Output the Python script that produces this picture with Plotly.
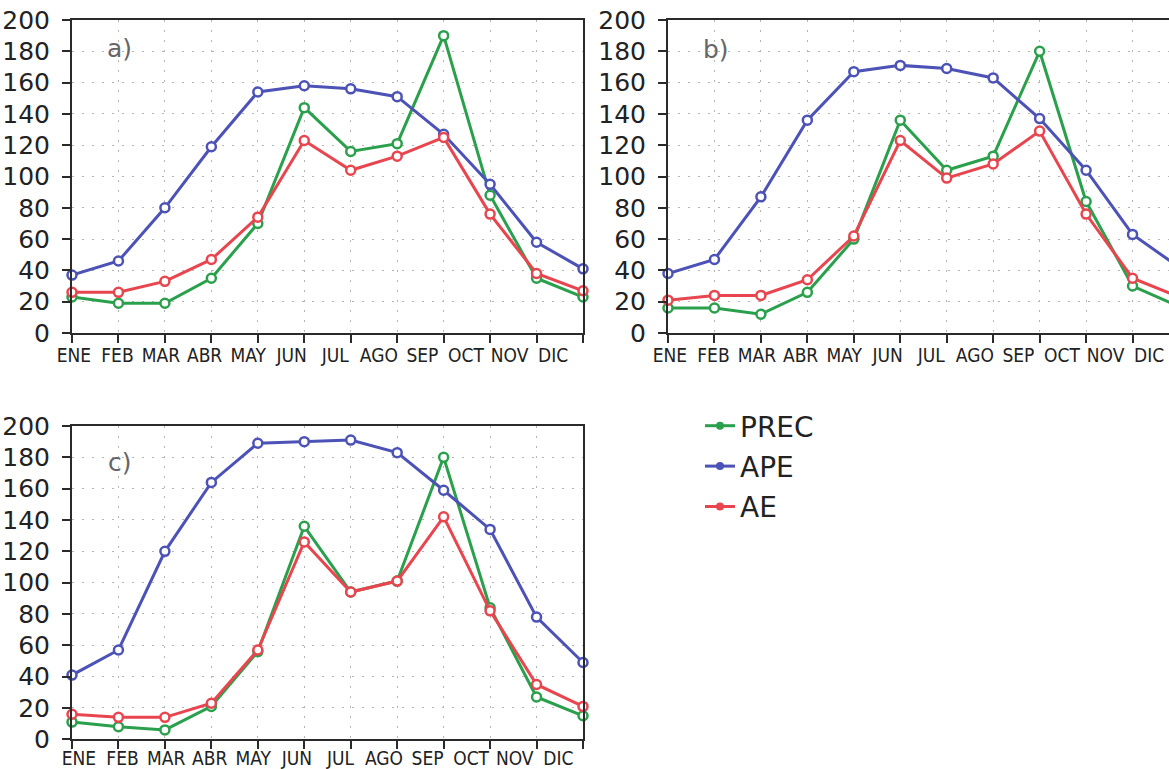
import plotly.graph_objects as go

months = ["ENE", "FEB", "MAR", "ABR", "MAY", "JUN", "JUL", "AGO", "SEP", "OCT", "NOV", "DIC"]
y_ticks = list(range(0, 201, 20))

# Panel a)
prec_a = [23, 19, 19, 35, 70, 144, 116, 121, 190, 88, 35, 23]
ape_a = [37, 46, 80, 119, 154, 158, 156, 151, 127, 95, 58, 41]
ae_a = [26, 26, 33, 47, 74, 123, 104, 113, 125, 76, 38, 27]

# Panel b)
prec_b = [16, 16, 12, 26, 60, 136, 104, 113, 180, 84, 30, 17]
ape_b = [38, 47, 87, 136, 167, 171, 169, 163, 137, 104, 63, 42]
ae_b = [21, 24, 24, 34, 62, 123, 99, 108, 129, 76, 35, 23]

# Panel c)
prec_c = [11, 8, 6, 21, 56, 136, 94, 101, 180, 84, 27, 15]
ape_c = [41, 57, 120, 164, 189, 190, 191, 183, 159, 134, 78, 49]
ae_c = [16, 14, 14, 23, 57, 126, 94, 101, 142, 82, 35, 21]

series_names = ["PREC", "APE", "AE"]
colors = {"PREC": "#2BA04C", "APE": "#4C52B6", "AE": "#E8454F"}
panel_labels = ["a)", "b)", "c)"]

W, H = 1169, 769
fig = go.Figure()

panels = [
    ({"PREC": prec_a, "APE": ape_a, "AE": ae_a}, "x", "y"),
    ({"PREC": prec_b, "APE": ape_b, "AE": ae_b}, "x2", "y2"),
    ({"PREC": prec_c, "APE": ape_c, "AE": ae_c}, "x3", "y3"),
]
xs = list(range(len(months)))

for data, xa, ya in panels:
    for name in series_names:
        fig.add_trace(go.Scatter(
            x=xs, y=data[name], xaxis=xa, yaxis=ya, mode="lines+markers",
            name=name, showlegend=False, cliponaxis=False,
            line=dict(color=colors[name], width=3),
            marker=dict(symbol="circle", size=9, color="white",
                        line=dict(color=colors[name], width=2.5)),
        ))

# legend entries
for name in series_names:
    fig.add_trace(go.Scatter(
        x=[None], y=[None], mode="lines+markers", name=name, showlegend=True,
        legendgroup=name, xaxis="x", yaxis="y",
        line=dict(color=colors[name], width=3),
        marker=dict(symbol="circle", size=8, color=colors[name]),
    ))

axis_col = "#2a2a2a"
grid = dict(gridcolor="#b5b5b5", gridwidth=1, griddash="2px,8px")
px_per_month = (583 - 72) / 11.0


def xaxis_cfg(domain, rng, offset, standoff):
    label_pos = [offset + i * 0.938 for i in range(len(months))]
    return dict(
        domain=domain, range=rng, tickmode="array", tickvals=label_pos,
        ticktext=months, ticks="", showgrid=False, zeroline=False,
        showline=True, linecolor=axis_col, linewidth=2, mirror=True,
        automargin=False,
        tickfont=dict(family="Liberation Sans Narrow, DejaVu Sans Condensed, Arial Narrow, sans-serif",
                      size=19, color="#222"),
        ticklabelstandoff=standoff,
        minor=dict(tickmode="array", tickvals=xs, ticks="outside", ticklen=8,
                   tickwidth=2, tickcolor=axis_col, showgrid=True, **grid),
    )


def yaxis_cfg(domain, mirror=True):
    return dict(
        domain=domain, range=[0, 200], tickmode="array", tickvals=y_ticks,
        ticks="outside", ticklen=8, tickwidth=2, tickcolor=axis_col,
        showline=True, linecolor=axis_col, linewidth=2, mirror=mirror,
        zeroline=False, showgrid=True, automargin=False, **grid,
        tickfont=dict(family="DejaVu Sans", size=25, color="#222"),
        ticklabelstandoff=7,
    )


top_dom = [1 - 333 / H, 1 - 20 / H]
bot_dom = [1 - 739.3 / H, 1 - 426 / H]
left_dom = [72 / W, 583 / W]
right_dom = [668 / W, 1.0]

fig.update_layout(
    width=W, height=H, margin=dict(l=0, r=0, t=0, b=0, autoexpand=False),
    paper_bgcolor="white", plot_bgcolor="white",
    xaxis=dict(xaxis_cfg(left_dom, [0, 11], 0.04, 4), anchor="y"),
    yaxis=dict(yaxis_cfg(top_dom), anchor="x"),
    xaxis2=dict(xaxis_cfg(right_dom, [0, (W - 668) / px_per_month], 0.04, 4), anchor="y2"),
    yaxis2=dict(yaxis_cfg(top_dom, mirror=False), anchor="x2"),
    xaxis3=dict(xaxis_cfg(left_dom, [0, 11], 0.15, 1), anchor="y3"),
    yaxis3=dict(yaxis_cfg(bot_dom), anchor="x3"),
    legend=dict(
        x=700 / W, y=1 - 401 / H, xanchor="left", yanchor="top",
        font=dict(family="DejaVu Sans", size=28, color="#222"),
        traceorder="grouped", tracegroupgap=1, bgcolor="rgba(0,0,0,0)",
    ),
    showlegend=True,
)

label_y = [182, 181, 177]
for lbl, (data, xa, ya), ly in zip(panel_labels, panels, label_y):
    fig.add_annotation(text=lbl, x=1.03, y=ly, xref=xa, yref=ya, showarrow=False,
                       font=dict(family="DejaVu Sans", size=25, color="#666"))

fig.write_html(
    "out.html",
    config={"displayModeBar": False},
    post_script="document.body.style.margin='0';document.body.style.overflow='hidden';",
)
